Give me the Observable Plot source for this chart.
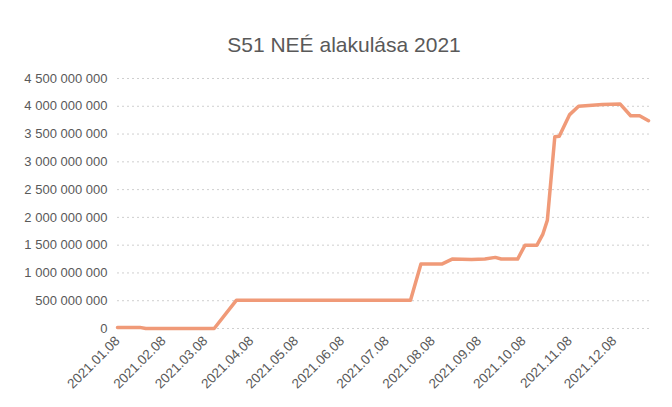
<!DOCTYPE html>
<html><head><meta charset="utf-8">
<script src="https://cdn.jsdelivr.net/npm/d3@7"></script>
<script src="https://cdn.jsdelivr.net/npm/@observablehq/plot@0.6"></script>
<style>
body{margin:0;background:#fff;}
#wrap{position:relative;width:672px;height:407px;overflow:hidden;}
#title{position:absolute;left:16px;top:34px;width:656px;text-align:center;font-family:"Liberation Sans";font-size:21px;line-height:21px;color:#595959;}
#chart{position:absolute;left:0;top:0;}
</style></head><body>
<div id="wrap"><div id="chart"></div><div id="title">S51 NEÉ alakulása 2021</div></div>
<script>
const dates = ["2021-01-08","2021-01-23","2021-01-27","2021-03-14","2021-03-29","2021-07-24","2021-07-31","2021-08-14","2021-08-21","2021-09-03","2021-09-12","2021-09-19","2021-09-23","2021-10-04","2021-10-09","2021-10-17","2021-10-21","2021-10-24","2021-10-29","2021-11-01","2021-11-08","2021-11-14","2021-11-30","2021-12-12","2021-12-19","2021-12-25","2021-12-31"];
const values = [20e6,20e6,0,0,510e6,510e6,1160e6,1160e6,1250e6,1240e6,1250e6,1280e6,1250e6,1250e6,1500e6,1500e6,1700e6,1950e6,3450e6,3460e6,3850e6,4000e6,4030e6,4040e6,3830e6,3830e6,3740e6];
const tickDates = ["2021-01-08","2021-02-08","2021-03-08","2021-04-08","2021-05-08","2021-06-08","2021-07-08","2021-08-08","2021-09-08","2021-10-08","2021-11-08","2021-12-08"];
const yTicks = [0,500e6,1000e6,1500e6,2000e6,2500e6,3000e6,3500e6,4000e6,4500e6];

const parse = d3.utcParse("%Y-%m-%d");
const fmt = d3.formatLocale({decimal:",", thousands:" ", grouping:[3], currency:["",""]}).format(",");
const data = dates.map((d,i)=>({date: parse(d), value: values[i]}));

const plot = Plot.plot({
  width:672, height:407,
  marginLeft:117, marginRight:24, marginTop:78, marginBottom:79,
  style:{fontFamily:"Liberation Sans", fontSize:"13px", color:"#595959", background:"transparent"},
  x:{type:"utc", domain:[parse("2021-01-08"), parse("2021-12-31")], ticks: tickDates.map(parse), tickFormat: d3.utcFormat("%Y.%m.%d"), tickRotate:-45, tickSize:0, tickPadding:10, label:null},
  y:{domain:[0,4.5e9], ticks: yTicks, tickFormat: fmt, tickSize:0, tickPadding:10, label:null},
  marks:[
    Plot.ruleY(yTicks, {stroke:"#cfcfcf", strokeDasharray:"2,3", insetRight:-2}),
    Plot.lineY(data, {x:"date", y:"value", stroke:"#F09A78", strokeWidth:3.5, strokeLinejoin:"round"})
  ]
});
plot.querySelectorAll('[aria-label="x-axis tick label"] text').forEach(t => t.style.fontSize = "13.5px");
document.getElementById("chart").appendChild(plot);
</script>
</body></html>
